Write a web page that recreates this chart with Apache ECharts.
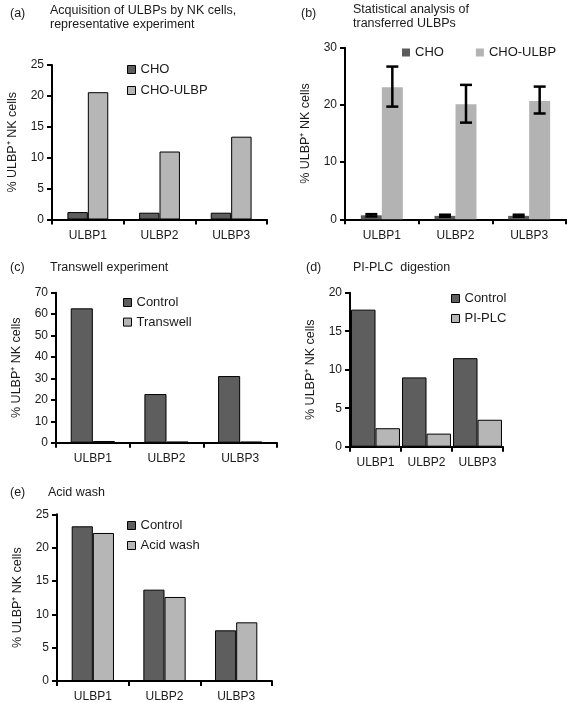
<!DOCTYPE html>
<html>
<head>
<meta charset="utf-8">
<script src="https://cdn.jsdelivr.net/npm/echarts@6/dist/echarts.min.js"></script>
<style>
html,body{margin:0;padding:0;background:#fff;}
#chart{width:568px;height:703px;}
</style>
</head>
<body>
<div id="chart"></div>
<script>
// ---- data ----
const categories = ['ULBP1', 'ULBP2', 'ULBP3'];

// (a) representative experiment
const aCHO = [1.2, 1.1, 1.1];
const aCHOULBP = [20.6, 11.0, 13.4];

// (b) statistical analysis (mean, low, high)
const bCHO = [0.7, 0.6, 0.6];
const bCHOLow = [0.5, 0.45, 0.45];
const bCHOHigh = [0.9, 0.8, 0.8];
const bCHOULBP = [23.1, 20.1, 20.7];
const bCHOULBPLow = [19.7, 16.9, 18.5];
const bCHOULBPHigh = [26.7, 23.5, 23.2];

// (c) transwell
const cControl = [62.7, 22.7, 31.1];
const cTranswell = [0.8, 0.5, 0.5];

// (d) PI-PLC digestion
const dControl = [17.8, 9.0, 11.5];
const dPIPLC = [2.4, 1.7, 3.5];

// (e) acid wash
const eControl = [23.2, 13.7, 7.6];
const eAcid = [22.2, 12.6, 8.8];

// y-axis scales: [max, interval]
const yScaleA = [25, 5];
const yScaleB = [30, 10];
const yScaleC = [70, 10];
const yScaleD = [20, 5];
const yScaleE = [25, 5];

// ---- styles ----
const FONT = 'Liberation Sans, Arial, Helvetica, sans-serif';
const DARK = '#5e5e5e';
const LIGHT = '#b6b6b6';
const B_DARK = '#5a5a5a';
const B_LIGHT = '#b3b3b3';
const TXT = '#1a1a1a';
const yName = '% ULBP\u207A NK cells';

const grids = [
  {left: 52, top: 65, width: 215, height: 154.5},
  {left: 345, top: 47.7, width: 221, height: 171.6},
  {left: 56, top: 292.7, width: 221, height: 150},
  {left: 350, top: 292.7, width: 153, height: 154},
  {left: 57, top: 514.3, width: 215, height: 166.7}
];
const yScales = [yScaleA, yScaleB, yScaleC, yScaleD, yScaleE];

const xAxes = grids.map((g, i) => ({
  type: 'category', gridIndex: i, data: categories, boundaryGap: true,
  axisLine: {lineStyle: {color: '#000', width: 2}},
  axisTick: {show: true, length: 5, lineStyle: {color: '#000', width: 2}},
  axisLabel: {color: TXT, fontSize: 12, fontFamily: FONT, margin: 10}
}));
const yAxes = grids.map((g, i) => ({
  type: 'value', gridIndex: i, min: 0, max: yScales[i][0], interval: yScales[i][1],
  name: yName, nameLocation: 'middle', nameGap: 33,
  nameTextStyle: {color: TXT, fontSize: 12.5, fontFamily: FONT},
  axisLine: {show: true, lineStyle: {color: '#000', width: 2}},
  axisTick: {show: true, length: 5, lineStyle: {color: '#000', width: 2}},
  axisLabel: {color: TXT, fontSize: 12, fontFamily: FONT, margin: 8},
  splitLine: {show: false}
}));

function bar(name, data, idx, color, gap, border) {
  return {
    type: 'bar', name: name, data: data, xAxisIndex: idx, yAxisIndex: idx,
    barGap: '0%', barCategoryGap: gap,
    itemStyle: {color: color, borderColor: '#000', borderWidth: border ? 1 : 0},
    emphasis: {disabled: true}, silent: true
  };
}

const B_GAP = 0.43;
function renderErr(params, api) {
  const cat = api.value(0), lo = api.value(1), hi = api.value(2), side = api.value(3);
  const p1 = api.coord([cat, lo]);
  const p2 = api.coord([cat, hi]);
  const catW = api.size([1, 0])[0];
  const barW = catW * (1 - B_GAP) / 2;
  const x = p1[0] + side * barW / 2;
  const cap = 6;
  const st = {stroke: '#000', lineWidth: 2.5};
  return {type: 'group', children: [
    {type: 'line', shape: {x1: x, y1: p1[1], x2: x, y2: p2[1]}, style: st},
    {type: 'line', shape: {x1: x - cap, y1: p1[1], x2: x + cap, y2: p1[1]}, style: st},
    {type: 'line', shape: {x1: x - cap, y1: p2[1], x2: x + cap, y2: p2[1]}, style: st}
  ]};
}
const errData = [];
categories.forEach((c, i) => {
  errData.push([i, bCHOLow[i], bCHOHigh[i], -1]);
  errData.push([i, bCHOULBPLow[i], bCHOULBPHigh[i], 1]);
});

const series = [
  bar('CHO', aCHO, 0, DARK, '43%', true),
  bar('CHO-ULBP', aCHOULBP, 0, LIGHT, '43%', true),
  bar('CHO', bCHO, 1, B_DARK, '43%', false),
  bar('CHO-ULBP', bCHOULBP, 1, B_LIGHT, '43%', false),
  {type: 'custom', xAxisIndex: 1, yAxisIndex: 1, renderItem: renderErr, data: errData, z: 10, silent: true},
  bar('Control', cControl, 2, DARK, '40%', true),
  bar('Transwell', cTranswell, 2, LIGHT, '40%', true),
  bar('Control', dControl, 3, DARK, '4%', true),
  bar('PI-PLC', dPIPLC, 3, LIGHT, '4%', true),
  bar('Control', eControl, 4, DARK, '41%', true),
  bar('Acid wash', eAcid, 4, LIGHT, '41%', true)
];

const legTxt = {color: TXT, fontSize: 13, fontFamily: FONT};
function leg(left, top, names, colors, border, orient, gap) {
  return {
    orient: orient, left: left, top: top, itemWidth: 8, itemHeight: 8, itemGap: gap,
    icon: 'rect', selectedMode: false, textStyle: legTxt,
    data: names.map((n, i) => ({name: n, itemStyle: {color: colors[i], borderColor: '#000', borderWidth: border ? 1 : 0}}))
  };
}
const legends = [
  leg(122, 58, ['CHO', 'CHO-ULBP'], [DARK, LIGHT], true, 'vertical', 8),
  leg(397, 41, ['CHO', 'CHO-ULBP'], [B_DARK, B_LIGHT], false, 'horizontal', 32),
  leg(118, 291, ['Control', 'Transwell'], [DARK, LIGHT], true, 'vertical', 6.6),
  leg(446, 287, ['Control', 'PI-PLC'], [DARK, LIGHT], true, 'vertical', 7),
  leg(122, 514, ['Control', 'Acid wash'], [DARK, LIGHT], true, 'vertical', 7)
];

const tStyle = {color: TXT, fontSize: 12.5, fontFamily: FONT, fontWeight: 'normal', lineHeight: 13.5};
function ttl(text, left, top) {
  return {text: text, left: left, top: top, padding: 0, textStyle: tStyle};
}
const titles = [
  ttl('(a)', 10, 7),
  ttl('Acquisition of ULBPs by NK cells,\nrepresentative experiment', 50, 4),
  ttl('(b)', 301, 7),
  ttl('Statistical analysis of\ntransferred ULBPs', 353, 3),
  ttl('(c)', 10, 261),
  ttl('Transwell experiment', 50, 261),
  ttl('(d)', 306, 261),
  ttl('PI-PLC  digestion', 353, 261),
  ttl('(e)', 10, 486),
  ttl('Acid wash', 48, 486)
];

const chart = echarts.init(document.getElementById('chart'), null, {renderer: 'canvas'});
chart.setOption({
  backgroundColor: '#fff',
  animation: false,
  title: titles,
  legend: legends,
  grid: grids,
  xAxis: xAxes,
  yAxis: yAxes,
  series: series
});
</script>
</body>
</html>
